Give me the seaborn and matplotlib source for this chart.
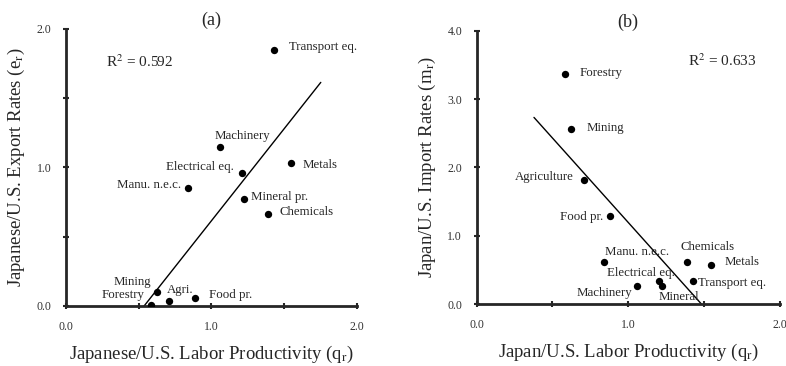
import matplotlib
matplotlib.use('Agg')
import matplotlib.pyplot as plt
import pandas as pd
import seaborn as sns
from matplotlib.ticker import MultipleLocator, FuncFormatter

sns.set_style('ticks')
plt.rcParams['font.family'] = ['Liberation Serif', 'DejaVu Serif']
plt.rcParams['mathtext.fontset'] = 'stix'

# (a) export rates vs labor productivity
sectors_a = ['Transport eq.', 'Machinery', 'Metals', 'Electrical eq.', 'Manu. n.e.c.',
             'Mineral pr.', 'Chemicals', 'Mining', 'Forestry', 'Agri.', 'Food pr.']
q_a = [1.43, 1.06, 1.55, 1.21, 0.84, 1.225, 1.39, 0.625, 0.585, 0.71, 0.89]
e_a = [1.85, 1.15, 1.035, 0.96, 0.855, 0.77, 0.665, 0.10, 0.01, 0.035, 0.06]
fit_a_x = [0.537, 1.752]
fit_a_y = [0.0, 1.614]

# (b) import rates vs labor productivity
sectors_b = ['Forestry', 'Mining', 'Agriculture', 'Food pr.', 'Manu. n.e.c.', 'Chemicals',
             'Metals', 'Transport eq.', 'Electrical eq.', 'Mineral', 'Machinery']
q_b = [0.58, 0.625, 0.705, 0.88, 0.84, 1.385, 1.545, 1.425, 1.20, 1.222, 1.057]
m_b = [3.36, 2.56, 1.82, 1.29, 0.62, 0.615, 0.57, 0.345, 0.335, 0.27, 0.265]
fit_b_x = [0.378, 1.484]
fit_b_y = [2.732, 0.0]

# label offsets in points (dx, dy, ha)
offs_a = {'Transport eq.': (11, 2, 'left'), 'Machinery': (16, 8, 'center'),
          'Metals': (8, -2, 'left'), 'Electrical eq.': (-6, 4, 'right'),
          'Manu. n.e.c.': (-5, 2, 'right'), 'Mineral pr.': (5, 2, 'left'),
          'Chemicals': (8, 1, 'left'), 'Mining': (-4, 7, 'right'),
          'Forestry': (-5, 7, 'right'), 'Agri.': (-2, 8, 'left'), 'Food pr.': (10, 2, 'left')}
offs_b = {'Forestry': (11, 1, 'left'), 'Mining': (11, 1, 'left'),
          'Agriculture': (-7, 2, 'right'), 'Food pr.': (-5, -1, 'right'),
          'Manu. n.e.c.': (1, 7, 'left'), 'Chemicals': (-4, 11, 'left'),
          'Metals': (10, 2, 'left'), 'Transport eq.': (4, -2, 'left'),
          'Electrical eq.': (12, 6, 'right'), 'Mineral': (-2, -8, 'left'),
          'Machinery': (-3, -5, 'right')}

df_a = pd.DataFrame({'q': q_a, 'v': e_a, 'sector': sectors_a})
df_b = pd.DataFrame({'q': q_b, 'v': m_b, 'sector': sectors_b})

fig = plt.figure(figsize=(7.86, 3.66), dpi=100)
ax1 = fig.add_axes([0.084, 0.164, 0.370, 0.757])
ax2 = fig.add_axes([0.6065, 0.169, 0.3855, 0.747])


def draw(ax, df, fx, fy, offs, ymax, title, xlabel, ylabel, r2, r2pos):
    sns.scatterplot(data=df, x='q', y='v', ax=ax, color='black', s=28,
                    edgecolor='black', linewidth=0, zorder=3)
    sns.lineplot(x=fx, y=fy, ax=ax, color='black', linewidth=1.0, zorder=2)
    for _, r in df.iterrows():
        dx, dy, ha = offs[r['sector']]
        ax.annotate(r['sector'], (r['q'], r['v']), xytext=(dx, dy),
                    textcoords='offset points', ha=ha, va='center', fontsize=9.3)
    ax.set_xlim(0, 2.0)
    ax.set_ylim(0, ymax)
    ax.xaxis.set_major_locator(MultipleLocator(0.5))
    ax.yaxis.set_major_locator(MultipleLocator(ymax / 4))
    fmt = FuncFormatter(lambda v, p: '%.1f' % v if abs(v - round(v)) < 1e-6 else '')
    ax.xaxis.set_major_formatter(fmt)
    ax.yaxis.set_major_formatter(fmt)
    ax.tick_params(direction='inout', length=5, width=1.5, labelsize=8.5,
                   labelcolor='#333333')
    ax.tick_params(axis='x', pad=8)
    ax.tick_params(axis='y', pad=8)
    for s in ['top', 'right']:
        ax.spines[s].set_visible(False)
    for s in ['left', 'bottom']:
        ax.spines[s].set_linewidth(2.0)
    ax.set_title(title, fontsize=13, pad=3)
    ax.set_xlabel(xlabel, fontsize=13.5, labelpad=8)
    ax.set_ylabel(ylabel, fontsize=13.5, labelpad=7)
    ax.text(r2pos[0], r2pos[1], r2, transform=ax.transAxes, fontsize=11,
            ha='left', va='center')


draw(ax1, df_a, fit_a_x, fit_a_y, offs_a, 2.0, '(a)',
     'Japanese/U.S. Labor Productivity (q$_\\mathrm{r}$)',
     'Japanese/U.S. Export Rates (e$_\\mathrm{r}$)',
     'R$^2$ = 0.592', (0.137, 0.88))
draw(ax2, df_b, fit_b_x, fit_b_y, offs_b, 4.0, '(b)',
     'Japan/U.S. Labor Productivity (q$_\\mathrm{r}$)',
     'Japan/U.S. Import Rates (m$_\\mathrm{r}$)',
     'R$^2$ = 0.633', (0.696, 0.889))

fig.savefig('out.png', dpi=100)
